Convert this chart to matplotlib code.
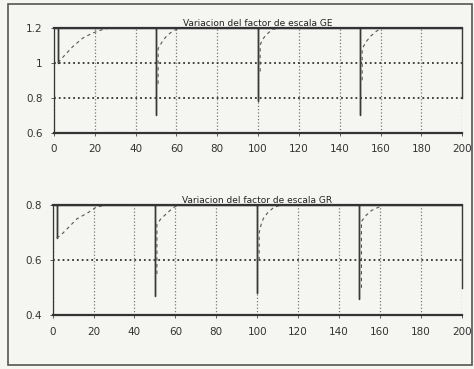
import matplotlib.pyplot as plt
from matplotlib.patches import Rectangle

# ── Datos ─────────────────────────────────────────────────────────────────
# Factor de escala GE: nivel base + caídas en t = 0, 50, 100, 150, 200
ge_t = [0, 2, 2, 2, 50, 50, 50, 100, 100, 100, 150, 150, 150, 200, 200]
ge_v = [1.2, 1.2, 1.0, 1.2, 1.2, 0.7, 1.2, 1.2, 0.78, 1.2, 1.2, 0.7, 1.2, 1.2, 0.8]
# tramos de recuperación (trazo discontinuo)
ge_rec_t = [[2, 5, 9, 14, 19, 24, 28],
            [51, 51, 52, 53, 55, 58, 62],
            [101, 101, 102, 104, 107, 111],
            [151, 151, 152, 153, 155, 158, 161]]
ge_rec_v = [[1.0, 1.04, 1.09, 1.14, 1.17, 1.19, 1.2],
            [0.88, 1.08, 1.1, 1.12, 1.15, 1.18, 1.2],
            [0.95, 1.1, 1.13, 1.16, 1.19, 1.2],
            [0.9, 1.08, 1.1, 1.12, 1.15, 1.18, 1.2]]

# Factor de escala GR
gr_t = [0, 2, 2, 2, 50, 50, 50, 100, 100, 100, 150, 150, 150, 200, 200]
gr_v = [0.8, 0.8, 0.68, 0.8, 0.8, 0.47, 0.8, 0.8, 0.48, 0.8, 0.8, 0.46, 0.8, 0.8, 0.5]
gr_rec_t = [[2, 4, 8, 12, 17, 21, 26],
            [51, 51, 52, 53, 56, 59, 62],
            [101, 101, 102, 103, 105, 108, 112],
            [151, 151, 152, 153, 156, 159, 162]]
gr_rec_v = [[0.68, 0.69, 0.72, 0.75, 0.77, 0.79, 0.8],
            [0.55, 0.73, 0.74, 0.75, 0.77, 0.79, 0.8],
            [0.6, 0.7, 0.73, 0.75, 0.77, 0.79, 0.8],
            [0.5, 0.74, 0.75, 0.76, 0.78, 0.79, 0.8]]

x_ticks = list(range(0, 201, 20))
ge_ticks = [0.6, 0.8, 1.0, 1.2]
ge_labels = ['0.6', '0.8', '1', '1.2']
gr_ticks = [0.4, 0.6, 0.8]
gr_labels = ['0.4', '0.6', '0.8']

# ── Estilo ─────────────────────────────────────────────────────────────────
bg = '#f5f5f2'
ink = '#3a3a3a'
fig = plt.figure(figsize=(4.74, 3.69), dpi=100)
fig.patch.set_facecolor(bg)

# marco exterior de la figura
fig.add_artist(Rectangle((8 / 474, 4 / 369), 464 / 474, 361 / 369,
                         transform=fig.transFigure, fill=False,
                         edgecolor='#555555', linewidth=1.2))

ax1 = fig.add_axes([0.114, 0.640, 0.861, 0.285])
ax2 = fig.add_axes([0.111, 0.145, 0.863, 0.300])

panels = [
    (ax1, ge_t, ge_v, ge_rec_t, ge_rec_v, (0.6, 1.2), ge_ticks, ge_labels,
     'Variacion del factor de escala GE'),
    (ax2, gr_t, gr_v, gr_rec_t, gr_rec_v, (0.4, 0.8), gr_ticks, gr_labels,
     'Variacion del factor de escala GR'),
]

for ax, t, v, rt, rv, ylim, yt, yl, title in panels:
    ax.set_facecolor(bg)
    ax.plot(t, v, '-', color=ink, linewidth=1.0, clip_on=False)
    for xs, ys in zip(rt, rv):
        ax.plot(xs, ys, '--', color='#555555', linewidth=0.8, dashes=(3, 3))
    ax.set_xlim(0, 200)
    ax.set_ylim(*ylim)
    ax.set_xticks(x_ticks)
    ax.set_yticks(yt)
    ax.set_yticklabels(yl)
    ax.tick_params(labelsize=7.5, colors='#444444', length=2, width=0.6, pad=6)
    for tl in ax.get_xticklabels() + ax.get_yticklabels():
        tl.set_color('#333333')
    ax.xaxis.grid(True, linestyle=':', color='#777777', linewidth=0.9)
    ax.yaxis.grid(True, linestyle=':', color='#333333', linewidth=1.3)
    ax.spines['top'].set_linewidth(1.6)
    ax.spines['bottom'].set_linewidth(1.6)
    ax.spines['left'].set_linewidth(0.9)
    ax.spines['right'].set_visible(False)
    for s in ax.spines.values():
        s.set_color('#333333')
    ax.set_title(title, fontsize=6.5, color='#222222', pad=1.0)

plt.savefig('out.png', dpi=100, facecolor=bg)
